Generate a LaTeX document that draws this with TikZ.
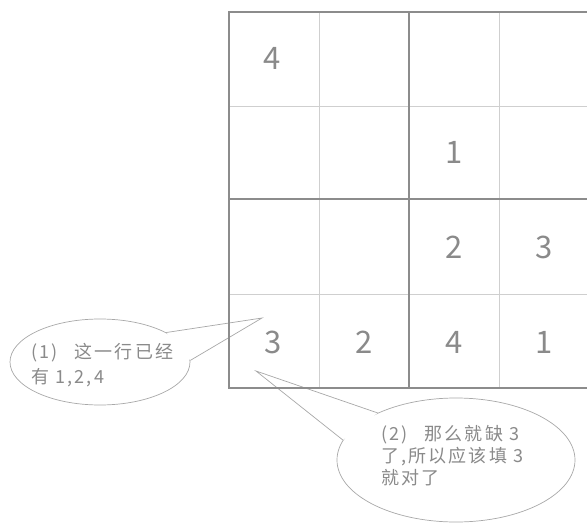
\documentclass[tikz,border=0pt]{standalone}
\usepackage{fontspec}
\setmainfont{Noto Sans CJK SC}
\newfontfamily\saytext[LetterSpace=12]{Noto Sans CJK SC}
\usetikzlibrary{shapes.geometric}
\definecolor{inkgray}{HTML}{8A8A8A}
\definecolor{thingray}{HTML}{CFCFCF}
\definecolor{boldgray}{HTML}{8C8C8C}
\definecolor{bubblegray}{HTML}{A8A8A8}
\tikzset{
  digit/.style={font=\fontsize{31}{31}\selectfont, text=inkgray, inner sep=0pt},
  thinline/.style={draw=thingray, line width=0.7pt},
  boldline/.style={draw=boldgray, line width=1.3pt},
  bubble/.style={ellipse, draw=bubblegray, fill=white, line width=0.7pt, inner sep=0pt},
  tailline/.style={draw=bubblegray, line width=0.7pt, line join=miter},
  say/.style={font=\saytext\fontsize{18}{24}\selectfont, text=inkgray, align=left, inner sep=0pt, anchor=north west}
}
\begin{document}
\begin{tikzpicture}[x=1pt, y=-1pt]
\useasboundingbox (0,0) rectangle (587,525);
% bubbles (under the grid)
\node[bubble, minimum width=180pt, minimum height=86pt] (e1) at (100,362) {};
\coordinate (t1) at (262,318);
\fill[white] (e1.24) -- (t1) -- (e1.1) -- cycle;
\draw[tailline] (e1.24) -- (t1) -- (e1.1);
\node[say, font=\saytext\fontsize{18}{25}\selectfont] (s1) at (31,343) {(1)\hspace{17pt}这一行已经\\有 1,2,4};
\node[bubble, minimum width=238pt, minimum height=124pt] (e2) at (456,460) {};
\coordinate (t2) at (256,371);
\fill[white] (e2.149) -- (t2) -- (e2.170) -- cycle;
\draw[tailline] (e2.149) -- (t2) -- (e2.170);
\node[say, font=\saytext\fontsize{18}{22}\selectfont] (s2) at (381,425) {(2)\hspace{17pt}那么就缺 3\\了,所以应该填 3\\就对了};
% grid
\draw[thinline] (229,106) -- (587,106);
\draw[thinline] (229,294) -- (587,294);
\draw[thinline] (319,12) -- (319,388);
\draw[thinline] (499,12) -- (499,388);
\draw[boldline] (229,199) -- (587,199);
\draw[boldline] (409,12) -- (409,388);
\draw[boldline] (587,12) -- (229,12) -- (229,388) -- (587,388);
% digits
\node[digit] (a11) at (272,58) {4};
\node[digit] (a23) at (454,152) {1};
\node[digit] (a33) at (454,247) {2};
\node[digit] (a34) at (544,247) {3};
\node[digit] (a41) at (273,342) {3};
\node[digit] (a42) at (364,342) {2};
\node[digit] (a43) at (454,342) {4};
\node[digit] (a44) at (544,342) {1};
\end{tikzpicture}
\end{document}
